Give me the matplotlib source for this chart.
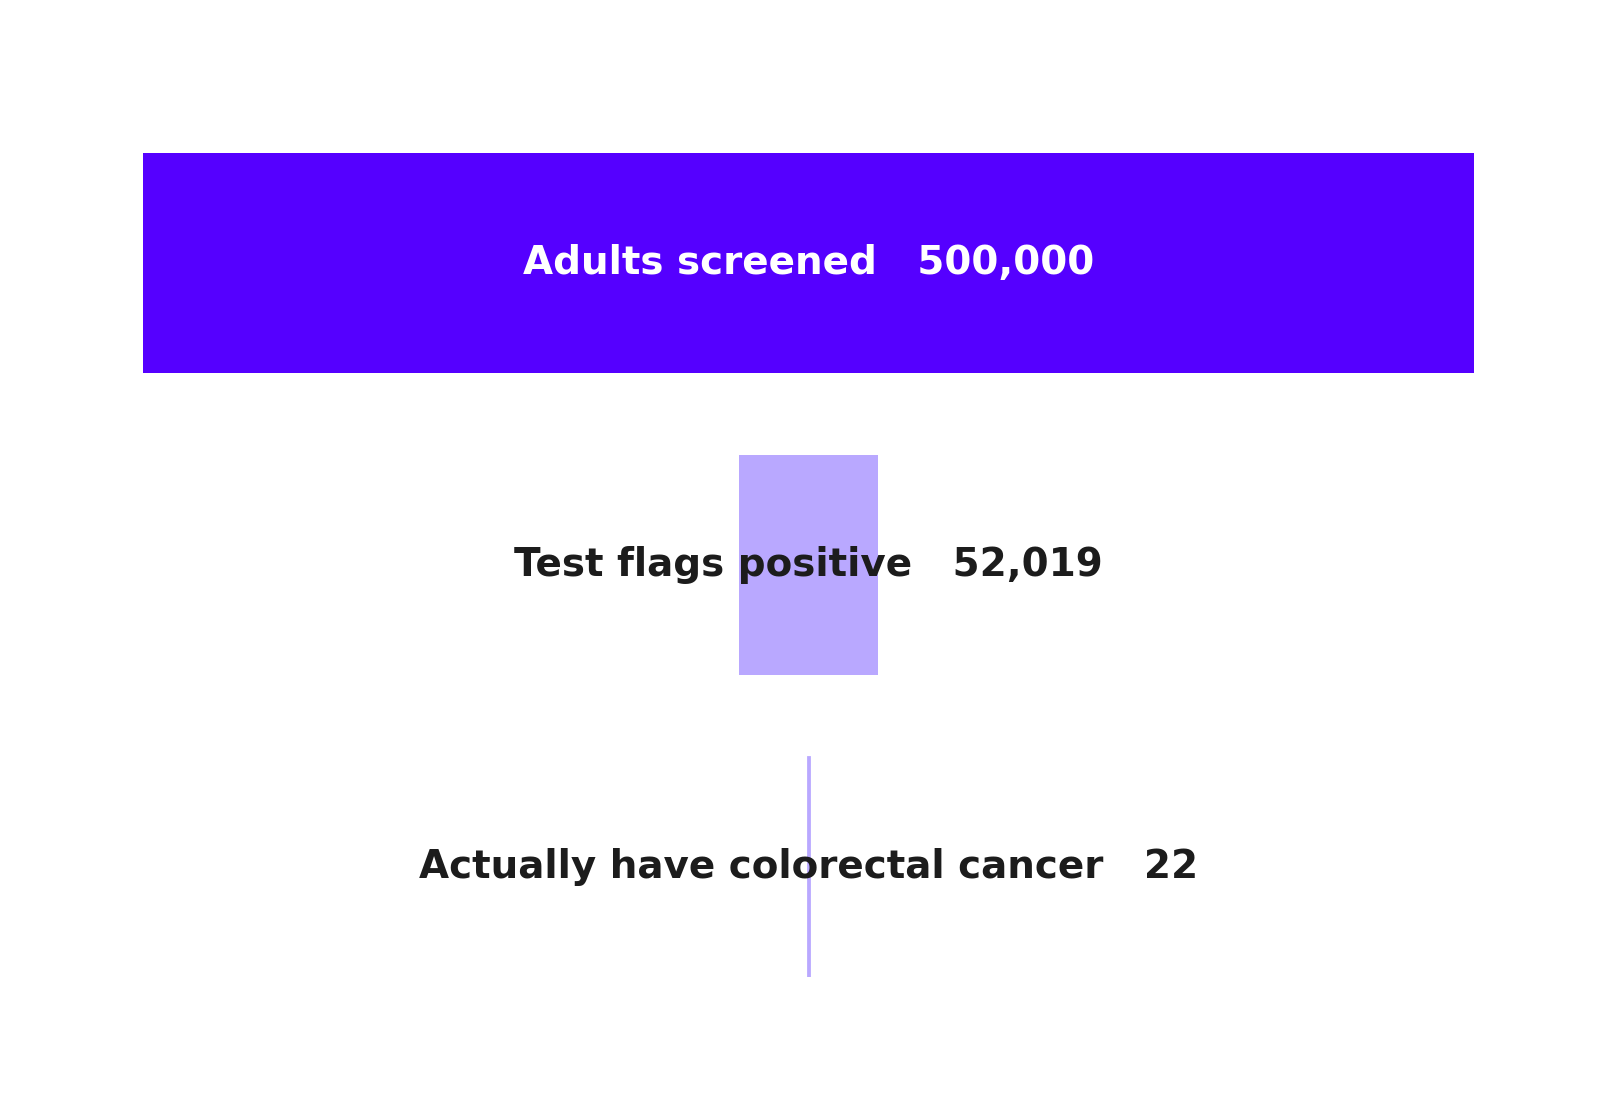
import matplotlib
matplotlib.use("Agg")
import matplotlib.pyplot as plt

stages = ["Adults screened", "Test flags positive", "Actually have colorectal cancer"]
counts = [500000, 52019, 22]
bar_colors = ["#5500FF", "#B9A8FF", "#B9A8FF"]
text_colors = ["white", "#1c1c1c", "#1c1c1c"]

W, H = 1616, 1107
fig = plt.figure(figsize=(W / 100, H / 100), dpi=100)
ax = fig.add_axes([143 / W, 1 - 977 / H, (1474 - 143) / W, (977 - 153) / H])

h = 0.727
ypos = list(range(len(stages)))
lefts = [-c / 2 for c in counts]
ax.barh(ypos, counts, left=lefts, height=h, color=bar_colors,
        edgecolor=bar_colors, linewidth=[0, 0, 2.0])

for y, s, c, tc in zip(ypos, stages, counts, text_colors):
    ax.text(0, y, f"{s}   {c:,}", ha="center", va="center",
            color=tc, fontsize=28, fontweight="bold", family="DejaVu Sans")

ax.set_xlim(-max(counts) / 2, max(counts) / 2)
ax.set_ylim(len(stages) - 1 + h / 2, -h / 2)
ax.axis("off")

fig.savefig("out.png", dpi=100, facecolor="white")
